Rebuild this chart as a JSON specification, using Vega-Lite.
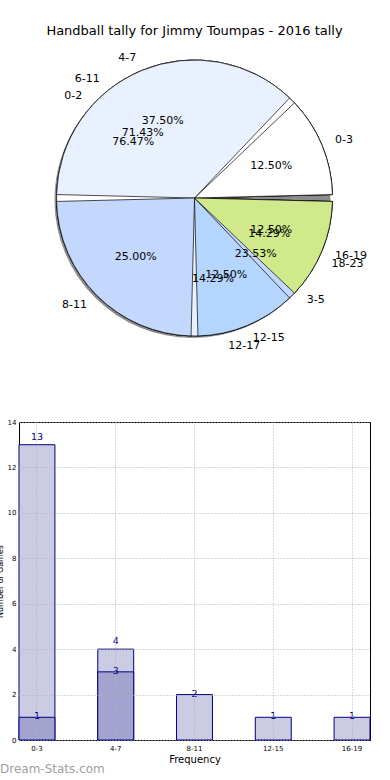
{
  "$schema": "https://vega.github.io/schema/vega-lite/v6.json",
  "autosize": {"type": "pad"},
  "padding": {"left": -4, "top": 25, "right": 0, "bottom": 0},
  "background": "white",
  "bounds": "flush",
  "spacing": 76,
  "config": {"font": "DejaVu Sans"},
  "datasets": {
    "pies": [
      {"pie": "A", "i": 0, "label": "0-3", "v": 1, "pct": "12.50%"},
      {"pie": "A", "i": 1, "label": "4-7", "v": 3, "pct": "37.50%"},
      {"pie": "A", "i": 2, "label": "8-11", "v": 2, "pct": "25.00%"},
      {"pie": "A", "i": 3, "label": "12-15", "v": 1, "pct": "12.50%"},
      {"pie": "A", "i": 4, "label": "16-19", "v": 1, "pct": "12.50%"},
      {"pie": "B", "i": 0, "label": "6-11", "v": 5, "pct": "71.43%"},
      {"pie": "B", "i": 1, "label": "12-17", "v": 1, "pct": "14.29%"},
      {"pie": "B", "i": 2, "label": "18-23", "v": 1, "pct": "14.29%"},
      {"pie": "C", "i": 0, "label": "0-2", "v": 13, "pct": "76.47%"},
      {"pie": "C", "i": 1, "label": "3-5", "v": 4, "pct": "23.53%"}
    ],
    "bars": [
      {"cat": "0-3", "series": "light", "n": 13},
      {"cat": "4-7", "series": "light", "n": 4},
      {"cat": "8-11", "series": "light", "n": 2},
      {"cat": "12-15", "series": "light", "n": 1},
      {"cat": "16-19", "series": "light", "n": 1},
      {"cat": "0-3", "series": "dark", "n": 1},
      {"cat": "4-7", "series": "dark", "n": 3}
    ]
  },
  "vconcat": [
    {
      "width": 351,
      "height": 296,
      "view": {"stroke": null},
      "title": {"text": "Handball tally for Jimmy Toumpas - 2016 tally", "fontSize": 13, "fontWeight": "normal", "font": "DejaVu Sans", "color": "black", "frame": "group", "offset": 12},
      "data": {"name": "pies"},
      "encoding": {
        "theta": {"field": "v", "type": "quantitative", "stack": "normalize", "scale": {"domain": [0, 1], "range": [1.5708, -4.7124]}},
        "order": {"field": "i", "type": "quantitative", "sort": "ascending"}
      },
      "layer": [
        {
          "transform": [{"filter": "datum.pie == 'A'"}],
          "mark": {"type": "arc", "outerRadius": 138, "fill": "#8c8c8c", "xOffset": -2, "yOffset": 2},
          "encoding": {"detail": {"field": "i"}}
        },
        {
          "transform": [{"filter": "datum.pie == 'C'"}],
          "mark": {"type": "arc", "outerRadius": 138, "stroke": "black", "strokeWidth": 0.7, "padAngle": 0.05},
          "encoding": {"color": {"field": "i", "type": "ordinal", "scale": {"domain": [0, 1, 2, 3, 4], "range": ["#ffffff", "#eaf1fe", "#c4d8fe", "#b4d5fe", "#cfe98b"]}, "legend": null}}
        },
        {
          "transform": [{"filter": "datum.pie == 'B'"}],
          "mark": {"type": "arc", "outerRadius": 138, "stroke": "black", "strokeWidth": 0.7, "padAngle": 0.05},
          "encoding": {"color": {"field": "i", "type": "ordinal", "legend": null}}
        },
        {
          "transform": [{"filter": "datum.pie == 'A'"}],
          "mark": {"type": "arc", "outerRadius": 138, "stroke": "black", "strokeWidth": 0.7, "padAngle": 0.05},
          "encoding": {"color": {"field": "i", "type": "ordinal", "legend": null}}
        },
        {
          "transform": [{"filter": "datum.pie == 'C'"}],
          "mark": {"type": "text", "radius": 152, "fontSize": 11, "baseline": "middle", "color": "black",
                   "align": {"expr": "(datum.v_start + datum.v_end) < 0.5 || (datum.v_start + datum.v_end) > 1.5 ? 'left' : 'right'"}},
          "encoding": {"detail": {"field": "i"}, "text": {"field": "label"}}
        },
        {
          "transform": [{"filter": "datum.pie == 'B'"}],
          "mark": {"type": "text", "radius": 152, "fontSize": 11, "baseline": "middle", "color": "black",
                   "align": {"expr": "(datum.v_start + datum.v_end) < 0.5 || (datum.v_start + datum.v_end) > 1.5 ? 'left' : 'right'"}},
          "encoding": {"detail": {"field": "i"}, "text": {"field": "label"}}
        },
        {
          "transform": [{"filter": "datum.pie == 'A'"}],
          "mark": {"type": "text", "radius": 152, "fontSize": 11, "baseline": "middle", "color": "black",
                   "align": {"expr": "(datum.v_start + datum.v_end) < 0.5 || (datum.v_start + datum.v_end) > 1.5 ? 'left' : 'right'"}},
          "encoding": {"detail": {"field": "i"}, "text": {"field": "label"}}
        },
        {
          "transform": [{"filter": "datum.pie == 'C'"}],
          "mark": {"type": "text", "radius": 83, "fontSize": 11, "baseline": "middle", "align": "center", "color": "black"},
          "encoding": {"detail": {"field": "i"}, "text": {"field": "pct"}}
        },
        {
          "transform": [{"filter": "datum.pie == 'B'"}],
          "mark": {"type": "text", "radius": 83, "fontSize": 11, "baseline": "middle", "align": "center", "color": "black"},
          "encoding": {"detail": {"field": "i"}, "text": {"field": "pct"}}
        },
        {
          "transform": [{"filter": "datum.pie == 'A'"}],
          "mark": {"type": "text", "radius": 83, "fontSize": 11, "baseline": "middle", "align": "center", "color": "black"},
          "encoding": {"detail": {"field": "i"}, "text": {"field": "pct"}}
        }
      ]
    },
    {
      "width": 351,
      "height": 318,
      "view": {"stroke": "black", "strokeWidth": 1},
      "title": {"text": "Dream-Stats.com", "orient": "bottom", "anchor": "start", "frame": "group", "dx": -19, "offset": 0, "fontSize": 12, "fontWeight": "normal", "color": "#a0a0a0"},
      "data": {"name": "bars"},
      "encoding": {
        "x": {
          "field": "cat", "type": "nominal", "title": "Frequency",
          "scale": {"domain": ["0-3", "4-7", "8-11", "12-15", "16-19"], "paddingInner": 0.544, "paddingOuter": 0},
          "axis": {"labelAngle": 0, "labelFontSize": 7, "labelPadding": 4, "ticks": false, "domain": false, "grid": true, "gridDash": [1, 2], "gridColor": "#b0b0b0", "bandPosition": 0.5, "titleFontSize": 10, "titleFontWeight": "normal", "titlePadding": 3, "labelColor": "black", "titleColor": "black", "zindex": 1}
        }
      },
      "layer": [
        {
          "transform": [{"filter": "datum.series == 'light'"}],
          "mark": {"type": "bar", "fill": "#cbcbe4", "stroke": "#000080", "strokeWidth": 1},
          "encoding": {
            "y": {
              "field": "n", "type": "quantitative", "title": "Number of Games",
              "scale": {"domain": [0, 14], "nice": false},
              "axis": {"values": [0, 2, 4, 6, 8, 10, 12, 14], "labelFontSize": 7, "labelPadding": 3, "ticks": false, "domain": false, "grid": true, "gridDash": [1, 2], "gridColor": "#b0b0b0", "titleFontSize": 8, "titleFontWeight": "normal", "titlePadding": 2.5, "labelColor": "black", "titleColor": "black", "zindex": 1}
            }
          }
        },
        {
          "transform": [{"filter": "datum.series == 'dark'"}],
          "mark": {"type": "bar", "fill": "#a3a3cf", "stroke": "#000080", "strokeWidth": 1},
          "encoding": {"y": {"field": "n", "type": "quantitative"}}
        },
        {
          "transform": [{"filter": "datum.series == 'light' && datum.n > 2"}],
          "mark": {"type": "text", "fontSize": 9.5, "baseline": "bottom", "dy": -3, "color": "#000080"},
          "encoding": {"y": {"field": "n", "type": "quantitative"}, "text": {"field": "n"}}
        },
        {
          "transform": [{"filter": "datum.series == 'dark' || datum.n <= 2"}],
          "mark": {"type": "text", "fontSize": 9.5, "baseline": "middle", "dy": -1, "color": "#000080"},
          "encoding": {"y": {"field": "n", "type": "quantitative"}, "text": {"field": "n"}}
        }
      ]
    }
  ]
}
